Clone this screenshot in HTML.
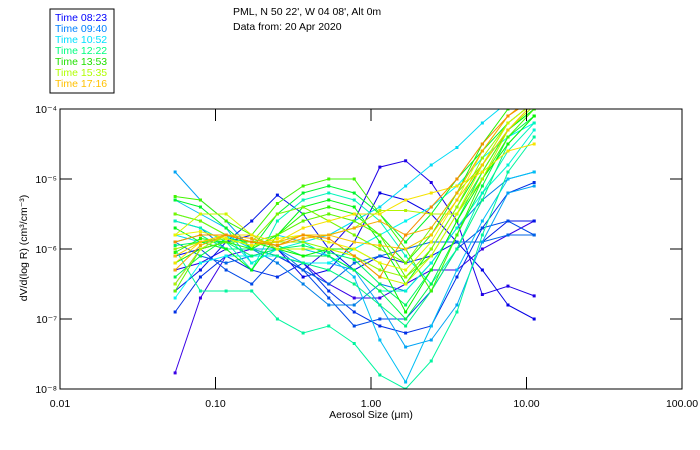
<!DOCTYPE html>
<html><head><meta charset="utf-8"><style>
body{margin:0;background:#fff;}
svg{display:block;font-family:"Liberation Sans",sans-serif;}
</style></head><body>
<svg id="c" width="700" height="450">
<defs><clipPath id="clip"><rect x="60" y="109" width="622" height="280"/></clipPath></defs>
<rect x="50" y="9" width="64" height="84" fill="none" stroke="#000"/>
<g id="legend" font-size="10.5"></g>
<text x="233" y="15" font-size="10.5">PML, N 50 22', W 04 08', Alt 0m</text>
<text x="233" y="30" font-size="10.5">Data from: 20 Apr 2020</text>
<g id="series" clip-path="url(#clip)"></g>
<rect x="60" y="109" width="622" height="280" fill="none" stroke="#000"/>
<g id="axes" font-size="10.5"></g>
<text x="371" y="418" font-size="10.5" text-anchor="middle">Aerosol Size (μm)</text>
<text transform="translate(27,248) rotate(-90)" font-size="10.5" text-anchor="middle">dV/d(log R) (cm³/cm⁻³)</text>
</svg>
<script>
const sizes=[0.055,0.08,0.117,0.171,0.25,0.366,0.535,0.78,1.14,1.67,2.44,3.57,5.2,7.6,11.2];
const xTicks=[0.01,0.1,1,10,100];
const xTickLabels=["0.01","0.10","1.00","10.00","100.00"];
const yTicks=[-4,-5,-6,-7,-8];
const yTickLabels=["10⁻⁴","10⁻⁵","10⁻⁶","10⁻⁷","10⁻⁸"];
const legendLabels=["Time 08:23","Time 09:40","Time 10:52","Time 12:22","Time 13:53","Time 15:35","Time 17:16"];
const legendColors=["#0000ff","#0080ff","#00e0ff","#00ff80","#20e000","#b0ff00","#ffc000"];
// log10 of dV/d(log R)
const s01=[-7.77,-6.7,-6.1,-6.0,-6.1,-6.2,-6.5,-6.7,-6.7,-6.5,-6.3,-6.3,-6.0,-5.8,-5.6];
const s02=[-6.3,-6.2,-6.0,-6.0,-6.1,-6.3,-6.0,-5.6,-4.83,-4.74,-5.05,-5.6,-6.65,-6.53,-6.67];
const s03=[-6.1,-6.0,-5.9,-5.8,-6.0,-6.4,-6.3,-5.9,-5.2,-5.3,-5.5,-5.9,-6.3,-6.8,-7.0];
const s04=[-6.6,-6.3,-5.9,-5.6,-5.23,-5.5,-6.0,-6.3,-6.1,-6.2,-6.1,-5.9,-5.9,-5.6,-5.6];
const s05=[-6.9,-6.4,-6.1,-6.3,-6.4,-6.2,-6.6,-6.9,-7.1,-7.2,-7.1,-6.4,-5.7,-5.2,-5.05];
const s06=[-6.5,-6.0,-6.3,-6.5,-6.1,-6.3,-6.7,-7.1,-7.0,-7.0,-6.6,-6.0,-5.7,-5.6,-5.8];
const s07=[-5.9,-6.1,-6.2,-6.1,-6.0,-6.3,-6.5,-6.2,-6.1,-6.0,-5.9,-5.9,-5.9,-5.8,-5.8];
const s08=[-5.6,-5.7,-6.0,-6.0,-6.2,-6.5,-6.8,-6.8,-6.5,-6.6,-6.2,-5.7,-5.3,-5.0,-4.9];
const s09=[-4.9,-5.3,-5.6,-6.0,-6.0,-6.2,-6.2,-6.3,-6.8,-7.4,-7.3,-6.8,-5.9,-5.2,-5.1];
const s10=[-5.3,-5.5,-5.7,-6.2,-6.0,-6.0,-6.1,-6.4,-7.3,-7.9,-7.1,-6.3,-5.6,-5.0,-4.9];
const s11=[-5.8,-5.9,-5.8,-6.0,-5.8,-5.9,-5.8,-5.6,-5.4,-5.1,-4.8,-4.55,-4.2,-3.9,-3.8];
const s12=[-6.7,-6.2,-6.1,-6.1,-6.1,-6.2,-6.2,-6.0,-5.8,-5.6,-5.4,-5.1,-4.7,-4.4,-4.2];
const s13=[-5.5,-5.6,-5.8,-6.2,-6.0,-5.9,-6.1,-6.3,-6.6,-6.6,-6.2,-5.7,-5.2,-4.8,-4.3];
const s14=[-5.6,-5.7,-5.9,-6.3,-5.6,-5.3,-5.2,-5.3,-5.6,-6.1,-6.5,-6.0,-5.2,-4.6,-4.2];
const s15=[-6.0,-6.6,-6.6,-6.6,-7.0,-7.2,-7.1,-7.35,-7.8,-8.0,-7.6,-6.9,-5.8,-4.9,-4.4];
const s16=[-5.9,-5.8,-6.0,-6.0,-6.1,-6.2,-6.3,-6.5,-6.8,-7.1,-6.6,-6.0,-5.3,-4.5,-4.1];
const s17=[-5.3,-5.4,-5.7,-6.0,-5.5,-5.2,-5.1,-5.2,-5.5,-5.9,-5.5,-5.0,-4.6,-4.2,-3.9];
const s18=[-5.7,-5.9,-6.0,-6.3,-5.8,-5.4,-5.3,-5.4,-5.9,-6.5,-6.0,-5.4,-4.8,-4.3,-4.0];
const s19=[-6.2,-6.0,-5.9,-5.9,-6.0,-6.1,-6.0,-6.0,-6.2,-6.9,-6.3,-5.6,-5.0,-4.5,-4.1];
const s20=[-5.25,-5.3,-5.6,-5.8,-5.35,-5.1,-5.0,-5.0,-5.5,-6.0,-6.6,-5.8,-5.0,-4.4,-4.0];
const s21=[-6.6,-6.0,-5.9,-5.9,-5.8,-5.6,-5.5,-5.6,-5.8,-6.4,-6.1,-5.5,-4.9,-4.3,-3.95];
const s22=[-5.5,-5.6,-5.8,-5.9,-5.5,-5.4,-5.6,-5.8,-6.0,-6.2,-5.7,-5.2,-4.8,-4.2,-3.9];
const s23=[-6.5,-6.0,-5.8,-5.9,-5.9,-5.8,-5.8,-5.7,-5.45,-5.45,-5.5,-5.5,-5.0,-4.3,-3.95];
const s24=[-5.8,-5.5,-5.5,-5.8,-6.0,-6.0,-6.0,-6.1,-6.4,-6.5,-6.1,-5.5,-4.8,-4.2,-3.9];
const s25=[-6.2,-5.9,-5.8,-5.8,-5.9,-5.7,-5.6,-5.5,-5.5,-5.3,-5.2,-5.1,-4.9,-4.6,-4.5];
const s26=[-6.1,-5.9,-5.8,-5.9,-5.9,-5.8,-5.8,-5.9,-5.95,-6.0,-5.8,-5.3,-4.8,-4.3,-3.9];
const s27=[-5.9,-5.8,-5.8,-5.9,-5.95,-5.8,-5.85,-6.1,-6.4,-5.8,-5.4,-5.0,-4.5,-4.1,-3.85];
const s28=[-6.0,-5.9,-5.85,-5.95,-5.9,-5.9,-6.0,-6.1,-6.3,-6.4,-6.0,-5.4,-4.7,-4.2,-3.9];
const s29=[-5.8,-5.75,-5.85,-5.95,-5.85,-5.8,-5.9,-6.0,-6.2,-6.3,-5.9,-5.3,-4.6,-4.1,-3.85];
const s30=[-6.3,-5.95,-5.8,-5.85,-5.95,-5.85,-5.8,-5.7,-5.6,-5.8,-5.7,-5.2,-4.6,-4.1,-3.8];
const s31=[-6.05,-5.85,-5.9,-6.0,-5.8,-5.5,-5.4,-5.5,-5.8,-6.2,-5.8,-5.2,-4.5,-4.0,-3.9];
const s32=[-5.95,-5.9,-5.9,-6.1,-6.0,-5.95,-6.05,-6.15,-6.5,-6.8,-6.3,-5.6,-4.9,-4.3,-4.0];
const s33=[-6.4,-6.1,-5.85,-5.9,-5.95,-6.1,-6.1,-6.3,-6.6,-7.0,-6.5,-5.8,-5.1,-4.4,-4.1];
const seriesList=[s01,s02,s03,s04,s05,s06,s07,s08,s09,s10,s11,s12,s13,s14,s15,s16,s32,s33,s17,s18,s19,s31,s20,s21,s22,s28,s23,s24,s29,s25,s26,s30,s27];

const NS="http://www.w3.org/2000/svg";
const X0=60,X1=682,Y0=109,Y1=389;
function xs(v){return X0+(Math.log10(v)+2)/4*(X1-X0);}
function ys(l){return Y0+(-4-l)/4*(Y1-Y0);}
function mk(tag,attrs,parent){const e=document.createElementNS(NS,tag);for(const k in attrs)e.setAttribute(k,attrs[k]);parent.appendChild(e);return e;}

const leg=document.getElementById('legend');
legendLabels.forEach((t,i)=>{
  const e=mk('text',{x:55,y:21+i*11,fill:legendColors[i]},leg);
  e.textContent=t;
  
  
});

const ax=document.getElementById('axes');
xTicks.forEach((v,i)=>{
  const x=xs(v);
  if(i>0&&i<xTicks.length-1){
    const a=mk('line',{x1:x,x2:x,y1:Y1,y2:Y1-12,stroke:'#000'},ax);
    
    
    const b=mk('line',{x1:x,x2:x,y1:Y0,y2:Y0+12,stroke:'#000'},ax);
    
    
  }
  const t=mk('text',{x:x,y:407,'text-anchor':'middle'},ax);
  t.textContent=xTickLabels[i];
  
  
});
yTicks.forEach((v,i)=>{
  const y=ys(v);
  if(i>0&&i<yTicks.length-1){
    const a=mk('line',{x1:X0,x2:X0+12,y1:y,y2:y,stroke:'#000'},ax);
    
    
    const b=mk('line',{x1:X1,x2:X1-12,y1:y,y2:y,stroke:'#000'},ax);
    
    
  }
  const t=mk('text',{x:57,y:y+4,'text-anchor':'end'},ax);
  t.textContent=yTickLabels[i];
  
  
});

const sg=document.getElementById('series');
seriesList.forEach((s,i)=>{
  const hue=255-i*(220/(seriesList.length-1));
  const col=`hsl(${hue},100%,${hue>200?45:48}%)`;
  const g=mk('g',{},sg);
  
  
  const pts=s.map((v,j)=>xs(sizes[j]).toFixed(1)+','+ys(v).toFixed(1)).join(' ');
  const pl=mk('polyline',{points:pts,fill:'none',stroke:col,'stroke-width':1},g);
  
  
  s.forEach((v,j)=>{
    const r=mk('rect',{x:xs(sizes[j])-1.5,y:ys(v)-1.5,width:3,height:3,fill:col},g);
    
    
  });
});
</script>
</body></html>
